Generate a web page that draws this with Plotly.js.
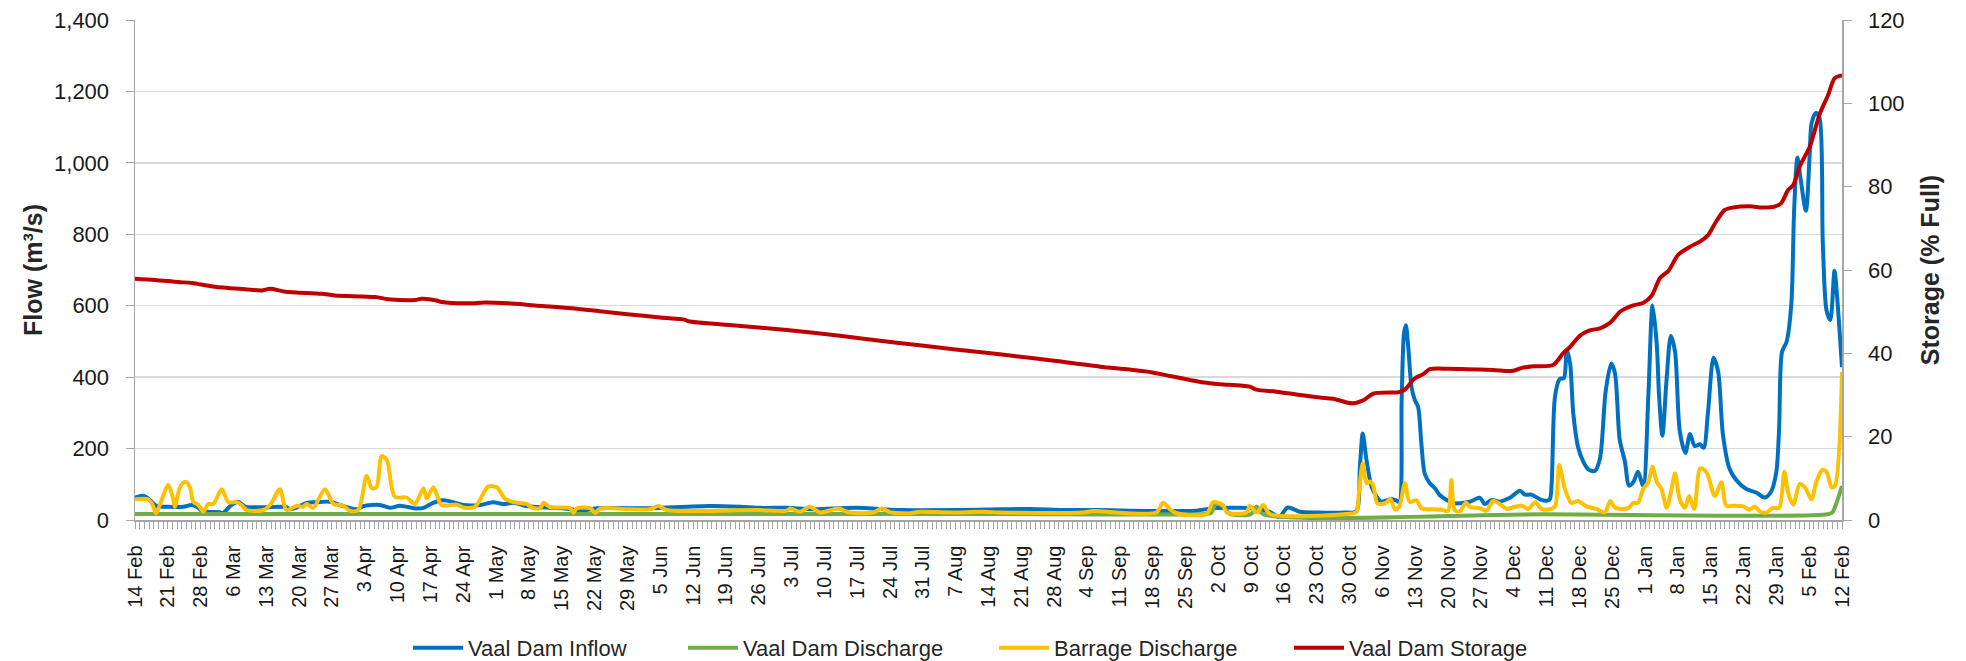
<!DOCTYPE html>
<html>
<head>
<meta charset="utf-8">
<script src="https://cdn.plot.ly/plotly-3.0.1.min.js"></script>
<style>
html,body{margin:0;padding:0;background:#fff;}
#chart{width:1966px;height:661px;}
</style>
</head>
<body>
<div id="chart"></div>
<script>
// Day offsets are days since 14 Feb 2020
const inflowDays = [0,1.8,3.2,4.6,7,10.3,12.1,13.2,14.2,15.3,18,18.8,20.3,22,23.5,24.5,28,32.3,33,34.5,36.6,38.7,41.6,44.4,47.3,48.7,52.2,54.4,56.5,60,61.5,63.6,65.7,67.9,70,73.6,76.4,78.5,80.7,83.5,84.9,88.5,91.3,94.2,95.6,98.4,105.6,109.8,122.6,129,133.3,139,144.6,153.8,163.1,175,185,191,198,205,212,220,226,230,234,238,242,244,245.8,248.4,252,258,260.4,261.2,261.8,262.6,263.7,264.8,265.8,266.9,268,269,269.6,270.1,270.6,271,271.5,272.2,272.9,273.6,274.3,275,276.1,277.2,278.2,279.7,281.1,282.5,284.6,286.8,287.8,289.3,291,292.1,293.2,295.3,296.4,297.8,299.6,301,301.7,302.1,302.8,303.8,304.7,305.3,306,306.7,307.7,308.8,309.9,311.3,312.4,313.6,314.8,315.6,316.6,317.7,318.6,319.5,320.5,321.6,322.7,323.6,324.5,325,325.7,326.6,327.5,328.4,329.4,330.6,331.6,332.6,333.7,334.5,335.4,336.6,337.6,338.6,340,341.5,343.6,345.7,347.5,348.9,350,350.6,351.2,352.2,353.2,353.8,354.5,355.2,356.3,357.1,357.5,358.4,359.2,359.9,360.7,361.5,362.4,362.9,364];
const inflowVals = [63,68,56,39,37,37,42,37,26,23,22,20,39,51,37,36,36,36,30,35,48,50,51,39,30,39,42,34,40,32,34,48,55,50,42,42,50,45,48,39,37,34,33,28,26,33,33,33,39,37,34,34,30,34,28,28,30,31,28,28,26,25,26,33,34,33,23,9,35,23,21,21,24,149,242,168,93,65,51,55,59,54,51,336,522,545,485,373,336,317,215,131,103,89,70,56,47,47,51,62,45,56,51,56,62,82,71,71,58,54,58,106,346,395,397,475,440,298,205,164,142,137,173,360,438,410,225,164,96,106,135,96,346,601,491,346,236,395,515,471,250,188,241,207,212,202,298,454,414,240,144,111,87,77,63,80,135,260,470,500,606,870,1015,953,866,1020,1110,1140,1126,779,587,560,698,635,428];

const dischargeDays = [0,60,120,180,228,229.5,230.5,232,233.5,238,239.2,240.5,300,361,362,363,364];
const dischargeVals = [17,17,17,17,17,20,45,38,17,17,38,17,16,16,22,55,95];

const barrageDays = [0,2.8,3.6,4.5,5.3,7.1,8.2,8.5,9.6,10.7,11.7,12.4,13.5,14.6,15.6,16.7,18.5,19.9,21.7,22.7,23.8,27.4,28.8,30.9,32.3,34.5,35.9,36.6,38,40.5,42.3,44.4,45.8,47.6,49.4,50.5,51.5,52.6,53.7,55.4,57.9,59.7,61.5,62.2,63.6,65.4,68.6,70,72.5,75.3,77.1,78.9,80.7,83.5,84.6,86.4,87.1,88.5,92.8,93.5,94.2,97.1,98.1,99.2,105.6,109.8,111.6,113.4,132.6,138.9,139.7,141.8,143.9,146.1,150,152.4,157.4,159.2,161,165.2,167.3,173.8,180.9,184.4,202.2,204.3,217.8,219.2,220.7,222.1,228.5,229.9,232,232.8,237,237.7,239.2,240.6,242,258.3,260.4,261,261.8,262.6,263.3,264,264.9,265.8,266.9,267.7,268.7,269.6,270.8,271.8,273.3,274.3,276.8,278.9,280,280.7,281.4,282.5,283.8,284.6,286.8,288.2,289.6,291,292.6,294.2,295.7,297.1,298.6,299.9,301.7,302.8,303.7,304.9,306.3,307.7,309.5,311.6,313.4,314.6,315.6,318.4,319.5,320.5,321.6,322.7,323.6,324.5,325.5,326.6,327.5,328.4,329.4,330.5,331.4,332.5,333.7,334.7,335.4,336.9,338.3,339.3,340.8,342.9,344.3,345.4,346.5,347.9,349.3,350.6,351.7,352.5,353.6,355,356.1,357.5,358.5,359.8,360.7,361.8,362.5,364];
const barrageVals = [58,58,47,19,42,98,56,37,92,107,92,51,42,23,45,45,86,50,50,42,28,28,42,86,28,40,37,45,34,86,45,40,26,28,124,89,92,179,168,65,63,45,89,60,92,42,43,35,37,93,92,60,50,45,35,33,48,36,33,20,33,33,20,32,30,30,39,28,28,26,32,23,37,21,32,21,21,32,22,19,23,21,23,21,21,25,21,48,30,19,17,50,42,21,21,39,21,42,17,17,22,80,159,103,108,98,47,45,50,59,29,38,103,51,55,33,30,28,26,112,28,24,49,37,33,26,54,45,31,37,40,31,50,31,30,38,154,87,48,53,38,31,21,53,34,33,48,48,87,106,149,106,87,34,77,130,58,34,67,31,144,140,125,67,106,40,40,38,29,38,24,21,34,34,135,77,43,101,91,58,106,140,135,91,96,414];

const storageDays = [0,4.3,9.2,12.1,17,23.5,27,28.8,32,39.8,42.6,51.2,54,59.7,61.1,64.3,65.4,71,74.6,79.6,85.3,92.4,99.1,105,112,117.2,118,128,139,150.3,162,174.5,185.8,196,205.8,212,217,221,225,228,231.3,237.7,239.1,243.4,248.4,252.6,255.5,259.5,261.9,264,269.5,270.8,272.8,274.7,276.1,280,283.9,289.6,293.9,295.7,298.2,302.4,304.6,305.9,308.1,310.2,312.4,314.5,316.8,319.5,321.6,323.4,325.2,327,329.1,331.6,333.7,335.4,337.2,339,340.8,344.3,347,349.6,351,352.5,353.6,355,357.1,359.2,361,362.4,363.5,364];
const storageVals = [57.9,57.6,57.1,56.9,56.0,55.4,55.1,55.5,54.8,54.3,53.9,53.5,53.0,52.8,53.1,52.7,52.3,52.0,52.2,52.0,51.5,50.9,50.1,49.4,48.6,48.1,47.7,46.7,45.6,44.2,42.6,41.0,39.6,38.2,36.8,36.1,35.4,34.5,33.6,33.0,32.6,32.0,31.3,30.8,30.0,29.4,29.1,28.0,28.7,30.3,30.7,31.3,33.9,35.0,36.2,36.3,36.2,36.0,35.8,36.5,36.9,37.2,40.1,41.4,44.2,45.5,46.0,47.3,50.1,51.5,52.1,53.8,58.1,59.8,63.7,65.6,66.8,68.3,71.7,74.4,75.0,75.3,75.0,75.2,76.0,79.2,80.4,84.9,89.5,97.3,101.9,106.0,106.6,106.6];

const seriesNames = ['Vaal Dam Inflow','Vaal Dam Discharge','Barrage Discharge','Vaal Dam Storage'];
const seriesColors = ['#0070C0','#70AD47','#FFC000','#C00000'];

const BASE = Date.UTC(2020,1,14);
function pad(n){return (n<10?'0':'')+n;}
function toDate(d){
  const t = new Date(BASE + Math.round(d*86400000));
  return t.getUTCFullYear()+'-'+pad(t.getUTCMonth()+1)+'-'+pad(t.getUTCDate())+' '+pad(t.getUTCHours())+':'+pad(t.getUTCMinutes());
}

const FONT = 'Liberation Sans, Arial, sans-serif';
function tr(days, vals, i, yaxis, leg){
  return {
    x: days.map(toDate), y: vals, type:'scatter', mode:'lines',
    name: seriesNames[i], yaxis: yaxis, legend: leg,
    line:{color:seriesColors[i], width:4, shape:'spline', smoothing:0.8},
    hoverinfo:'x+y'
  };
}
const data = [
  tr(inflowDays, inflowVals, 0, 'y', 'legend'),
  tr(dischargeDays, dischargeVals, 1, 'y', 'legend2'),
  tr(barrageDays, barrageVals, 2, 'y', 'legend3'),
  tr(storageDays, storageVals, 3, 'y2', 'legend4')
];

const W = 1966, H = 661;
const PL = 135, PR = 1842, PT = 19.5, PB = 520;
function legAt(px){
  return {orientation:'h', xref:'container', yref:'container', x:px/W, xanchor:'left', y:1-648/H, yanchor:'middle',
    font:{family:FONT, size:22, color:'#262626'}, bgcolor:'rgba(0,0,0,0)', itemwidth:50, borderwidth:0};
}
const axisGrey = '#a6a6a6';
const layout = {
  width:W, height:H,
  margin:{l:PL, r:W-PR, t:PT, b:H-PB, pad:0, autoexpand:false},
  paper_bgcolor:'#fff', plot_bgcolor:'#fff',
  font:{family:FONT, color:'#1a1a1a'},
  showlegend:true,
  xaxis:{
    type:'date', range:['2020-02-14','2021-02-12'], automargin:false,
    tickmode:'linear', tick0:'2020-02-14', dtick:7*86400000,
    tickformat:'%-d %b', tickangle:-90,
    tickfont:{family:FONT, size:20, color:'#1a1a1a'},
    showline:true, linecolor:axisGrey, linewidth:1.5,
    ticks:'outside', ticklen:7, tickcolor:axisGrey, tickwidth:1,
    minor:{dtick:86400000, tick0:'2020-02-14', ticks:'outside', ticklen:7, tickcolor:axisGrey, tickwidth:1, showgrid:false},
    showgrid:false, zeroline:false, ticklabelstandoff:9
  },
  yaxis:{
    range:[0,1400], tickmode:'linear', tick0:0, dtick:200, tickformat:',d', automargin:false,
    tickfont:{family:FONT, size:22, color:'#1a1a1a'},
    showline:true, linecolor:axisGrey, linewidth:1.5,
    ticks:'outside', ticklen:8, tickcolor:axisGrey,
    showgrid:true, gridcolor:'#d9d9d9', gridwidth:1.5, zeroline:false,
    ticklabelstandoff:12,
    title:{text:'Flow (m³/s)', font:{family:FONT, size:25, weight:'bold', color:'#262626'}, standoff:4}
  },
  yaxis2:{
    overlaying:'y', side:'right', range:[0,120], tickmode:'linear', tick0:0, dtick:20, automargin:false,
    tickfont:{family:FONT, size:22, color:'#1a1a1a'},
    showline:true, linecolor:axisGrey, linewidth:1.5,
    ticks:'outside', ticklen:8, tickcolor:axisGrey,
    showgrid:false, zeroline:false, ticklabelstandoff:12,
    title:{text:'Storage (% Full)', font:{family:FONT, size:25, weight:'bold', color:'#262626'}, standoff:18}
  },
  legend: legAt(408),
  legend2: legAt(683),
  legend3: legAt(994),
  legend4: legAt(1289)
};
Plotly.newPlot('chart', data, layout, {displayModeBar:false, responsive:false, staticPlot:true});
</script>
</body>
</html>
